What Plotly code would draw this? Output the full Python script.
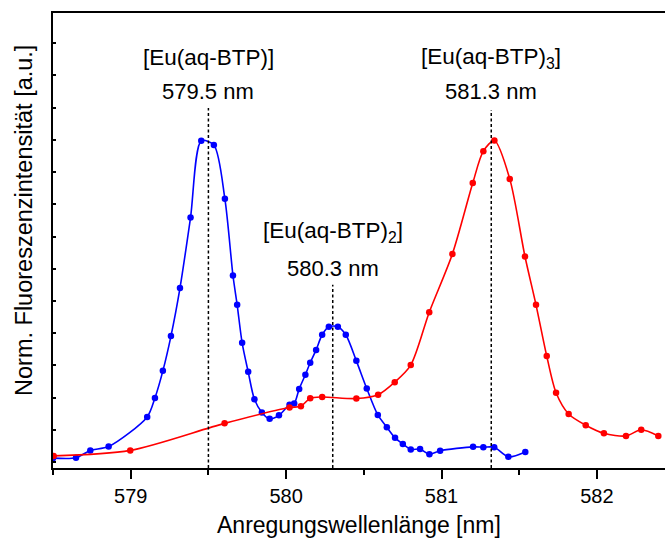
import plotly.graph_objects as go

# Blue series: [Eu(aq-BTP)] / [Eu(aq-BTP)2]
blue_x = [578.50, 578.648, 578.740, 578.858, 579.106, 579.156, 579.207, 579.259, 579.317,
          579.385, 579.454, 579.535, 579.606, 579.658, 579.685, 579.717, 579.756, 579.796,
          579.844, 579.894, 579.954, 580.022, 580.052, 580.084, 580.124, 580.155, 580.193,
          580.232, 580.275, 580.333, 580.384, 580.452, 580.519, 580.590, 580.648, 580.701,
          580.751, 580.802, 580.862, 580.922, 580.991, 581.203, 581.269, 581.339, 581.430,
          581.539]
blue_y = [0.012, 0.013, 0.036, 0.048, 0.140, 0.199, 0.283, 0.391, 0.540,
          0.759, 0.997, 0.984, 0.817, 0.579, 0.488, 0.370, 0.280, 0.195,
          0.154, 0.134, 0.145, 0.178, 0.182, 0.227, 0.271, 0.308, 0.348,
          0.395, 0.420, 0.420, 0.395, 0.314, 0.228, 0.146, 0.108, 0.075,
          0.056, 0.039, 0.040, 0.024, 0.035, 0.047, 0.046, 0.046, 0.016,
          0.031]

# Red series: [Eu(aq-BTP)3]
red_x = [578.504, 578.997, 579.604, 580.022, 580.095, 580.155, 580.232, 580.452, 580.592,
         580.699, 580.802, 580.921, 581.070, 581.201, 581.269, 581.340, 581.439, 581.537,
         581.608, 581.677, 581.737, 581.818, 581.928, 582.045, 582.187, 582.285, 582.395]
red_y = [0.019, 0.036, 0.120, 0.169, 0.173, 0.198, 0.202, 0.197, 0.209,
         0.248, 0.301, 0.465, 0.646, 0.866, 0.965, 0.998, 0.879, 0.638,
         0.488, 0.329, 0.215, 0.149, 0.114, 0.089, 0.081, 0.100, 0.081]

# Peak markers
peak_pos = [579.5, 580.3, 581.32]
peak_top = [1.099, 0.55, 1.093]
peak_names = ["[Eu(aq-BTP)]", "[Eu(aq-BTP)<sub>2</sub>]", "[Eu(aq-BTP)<sub>3</sub>]"]
peak_labels = ["579.5 nm", "580.3 nm", "581.3 nm"]
name_y = [1.2547, 0.714, 1.2547]
label_y = [1.149, 0.602, 1.149]

x_ticks = [579, 580, 581, 582]
x_ticklabels = ["579", "580", "581", "582"]
x_title = "Anregungswellenlänge [nm]"
y_title = "Norm. Fluoreszenzintensität [a.u.]"

FONT = "Arial, Liberation Sans, sans-serif"

fig = go.Figure()
fig.add_trace(go.Scatter(x=blue_x, y=blue_y, mode="lines+markers",
                         line=dict(color="#0000FF", width=1.6, shape="spline", smoothing=0.8),
                         marker=dict(color="#0000FF", size=6.5), showlegend=False))
fig.add_trace(go.Scatter(x=red_x, y=red_y, mode="lines+markers",
                         line=dict(color="#FF0000", width=1.6, shape="spline", smoothing=0.8),
                         marker=dict(color="#FF0000", size=6.5), showlegend=False))

for xp, yt in zip(peak_pos, peak_top):
    fig.add_shape(type="line", xref="x", yref="y", x0=xp, x1=xp, y0=-0.0186, y1=yt,
                  line=dict(color="black", width=1.5, dash="3px,2.5px"))

for xp, nm, ny, lb, ly in zip(peak_pos, peak_names, name_y, peak_labels, label_y):
    fig.add_annotation(x=xp, y=ny, xref="x", yref="y", text=nm, showarrow=False,
                       font=dict(family=FONT, size=22.5, color="black"))
    fig.add_annotation(x=xp, y=ly, xref="x", yref="y", text=lb, showarrow=False,
                       font=dict(family=FONT, size=22, color="black"))

# Axis titles (placed manually so the margins stay fixed)
fig.add_annotation(x=0.5, y=-0.125, xref="paper", yref="paper", text=x_title,
                   showarrow=False, xanchor="center", yanchor="middle",
                   font=dict(family=FONT, size=23, color="black"))
fig.add_annotation(x=-0.0475, y=0.545, xref="paper", yref="paper", text=y_title,
                   showarrow=False, xanchor="center", yanchor="middle", textangle=-90,
                   font=dict(family=FONT, size=23.5, color="black"))

fig.update_layout(
    width=665, height=538,
    margin=dict(l=53, r=0, t=13, b=70),
    paper_bgcolor="white", plot_bgcolor="white",
    font=dict(family=FONT, color="black"),
    xaxis=dict(range=[578.5, 582.438], tickvals=x_ticks, ticktext=x_ticklabels,
               ticks="outside", ticklen=9, tickwidth=2, tickcolor="black",
               minor=dict(tickvals=[578.5, 579.5, 580.5, 581.5], ticks="outside",
                          ticklen=5, tickwidth=2, tickcolor="black"),
               showline=True, linewidth=2, linecolor="black", mirror=True,
               showgrid=False, zeroline=False, automargin=False,
               tickfont=dict(family=FONT, size=20, color="black")),
    yaxis=dict(range=[-0.0186, 1.394], tick0=0, dtick=0.1, ticks="inside",
               ticklen=3, tickwidth=1.5, tickcolor="black", showticklabels=False,
               showline=True, linewidth=2, linecolor="black", mirror=False,
               showgrid=False, zeroline=False, automargin=False),
)

fig.write_html("out.html", config={"displayModeBar": False},
               post_script="document.body.style.margin='0';document.body.style.padding='0';")
